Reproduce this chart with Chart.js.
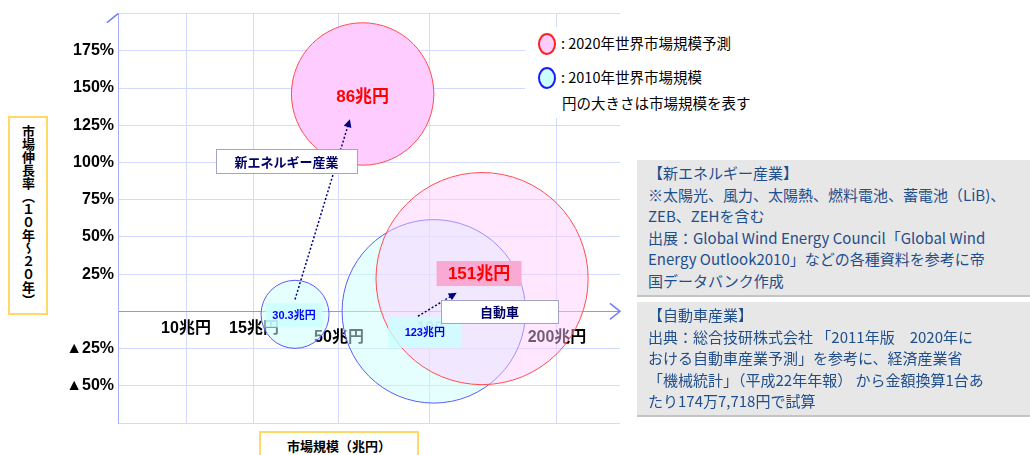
<!DOCTYPE html>
<html lang="ja">
<head>
<meta charset="utf-8">
<title>市場規模と市場伸長率</title>
<script src="https://cdn.jsdelivr.net/npm/chart.js@4.4.0/dist/chart.umd.min.js"></script>
<style>
  html, body { margin: 0; padding: 0; background: #fff; }
  #wrap { position: relative; width: 1030px; height: 455px; overflow: hidden; font-family: "Noto Sans CJK JP", sans-serif; }
  #chart { position: absolute; left: 0; top: 0; }
  .ytitle { position: absolute; left: 8px; top: 116px; width: 36px; height: 195px; border: 2px solid #ffd966;
    writing-mode: vertical-rl; text-align: center; line-height: 36px; font-size: 13px; font-weight: bold; color: #000; background: #fff; }
  .xtitle { position: absolute; left: 259px; top: 431px; width: 156px; height: 40px; border: 2px solid #ffd966;
    text-align: center; line-height: 26px; font-size: 13px; font-weight: bold; color: #000; background: #fff; }
  .legend { position: absolute; left: 525px; top: 27px; width: 240px; height: 91px; background: #fff; font-size: 14.5px; color: #000; }
  .legend .row { position: absolute; left: 13px; height: 22px; line-height: 22px; white-space: nowrap; }
  .legend .dot { display: inline-block; width: 14px; height: 18px; border-radius: 50%; vertical-align: middle; margin-right: 5px; position: relative; top: -1px; }
  .note { position: absolute; left: 637px; width: 382px; background: #e7e7e7; border-bottom: 2px solid #c4c4c4;
    padding: 2px 0 0 11px; font-size: 15px; line-height: 21.5px; color: #1f4e8c; white-space: nowrap; overflow: hidden; }
</style>
</head>
<body>
<div id="wrap">
  <canvas id="chart" width="1030" height="455"></canvas>
  <div class="legend">
    <div class="row" style="top:5px"><span class="dot" style="background:#ffccff;border:2px solid #ff2020"></span>: 2020年世界市場規模予測</div>
    <div class="row" style="top:39px"><span class="dot" style="background:#ccffff;border:2px solid #1a1aff"></span>: 2010年世界市場規模</div>
    <div class="row" style="top:65px;left:37px">円の大きさは市場規模を表す</div>
  </div>
  <div class="ytitle">市場伸長率（１０年～２０年）</div>
  <div class="xtitle">市場規模（兆円）</div>
  <div class="note" style="top:160px;height:133px">【新エネルギー産業】<br>※太陽光、風力、太陽熱、燃料電池、蓄電池（LiB)、<br>ZEB、ZEHを含む<br>出展：Global Wind Energy Council「Global Wind<br>Energy Outlook2010」などの各種資料を参考に帝<br>国データバンク作成</div>
  <div class="note" style="top:302px;height:111px">【自動車産業】<br>出典：総合技研株式会社 「2011年版　2020年に<br>おける自動車産業予測」を参考に、経済産業省<br>「機械統計」（平成22年年報） から金額換算1台あ<br>たり174万7,718円で試算</div>
</div>
<script>
// industries: new energy, automobile
var industries = ['新エネルギー産業', '自動車'];
var size2010 = [30.3, 123];   // 兆円
var size2020 = [86, 151];     // 兆円
var xPos2010 = [31.9, 103];
var xPos2020 = [63, 141];
var growth2010 = [-2, 0];     // %
var growth2020 = [146, 22];   // %

var xTickValues = [0, 10, 15, 50, 100, 200];
var xTickLabels = ['', '10兆円', '15兆円', '50兆円', '100', '200兆円'];

// the market-size axis in the original is not linear: value -> share of the axis width
var xStops = [[0, 0], [10, 0.1355], [15, 0.2709], [50, 0.4402], [100, 0.6215], [200, 0.8745], [250, 1]];

class SteppedScale extends Chart.LinearScale {
  getPixelForValue(value) {
    var s = xStops, f = 1;
    if (value <= s[0][0]) f = 0;
    for (var i = 1; i < s.length; i++) {
      if (value <= s[i][0]) {
        f = s[i-1][1] + (value - s[i-1][0]) / (s[i][0] - s[i-1][0]) * (s[i][1] - s[i-1][1]);
        break;
      }
    }
    return this.getPixelForDecimal(f);
  }
  getValueForPixel(pixel) {
    var f = this.getDecimalForPixel(pixel), s = xStops;
    for (var i = 1; i < s.length; i++) {
      if (f <= s[i][1]) return s[i-1][0] + (f - s[i-1][1]) / (s[i][1] - s[i-1][1]) * (s[i][0] - s[i-1][0]);
    }
    return s[s.length-1][0];
  }
  // labels are pulled up under the 0% line, so don't clip them to the axis box
  _computeLabelArea() { return undefined; }
}
SteppedScale.id = 'stepped';
SteppedScale.defaults = Chart.LinearScale.defaults;
Chart.register(SteppedScale);

function bubbleRadius(v) { return 3.04 * Math.pow(v, 0.708); }

function points(xs, ys, vs) {
  var out = [];
  for (var i = 0; i < xs.length; i++) out.push({x: xs[i], y: ys[i], v: vs[i]});
  return out;
}

var gridColor = '#d3d9ff';
var axisColor = '#8b97ff';
var numFont = '"Liberation Sans", "Noto Sans CJK JP", sans-serif';

var notes = {
  id: 'notes',
  afterDatasetsDraw: function(chart) {
    var ctx = chart.ctx, x = chart.scales.x, y = chart.scales.y, area = chart.chartArea;
    var m20 = chart.getDatasetMeta(0).data, m10 = chart.getDatasetMeta(1).data;

    ctx.save();
    // axis arrow heads
    ctx.strokeStyle = '#6f7dff';
    ctx.lineWidth = 1.5;
    var y0 = y.getPixelForValue(0);
    ctx.beginPath();
    ctx.moveTo(area.right - 10, y0 - 8); ctx.lineTo(area.right, y0); ctx.lineTo(area.right - 10, y0 + 8);
    ctx.stroke();
    ctx.beginPath();
    ctx.moveTo(area.left - 11, area.top + 9); ctx.lineTo(area.left, area.top);
    ctx.stroke();

    // value labels
    function label(el, text, dx, dy, w, h, bg, color, size) {
      var cx = el.x + dx, cy = el.y + dy;
      if (bg) { ctx.fillStyle = bg; ctx.fillRect(cx - w / 2, cy - h / 2, w, h); }
      ctx.fillStyle = color;
      ctx.font = 'bold ' + size + 'px ' + numFont;
      ctx.textAlign = 'center'; ctx.textBaseline = 'middle';
      ctx.fillText(text, cx, cy + 1);
    }
    label(m20[0], size2020[0] + '兆円', 0, 2, 0, 0, null, '#ff0000', 17);
    label(m20[1], size2020[1] + '兆円', -3, -5, 85, 25, '#f9aad2', '#ff0000', 17);
    label(m10[0], size2010[0] + '兆円', -1, 1, 57, 24, 'rgba(204,255,255,0.8)', '#0000ff', 11);
    label(m10[1], size2010[1] + '兆円', -9, 21, 73, 31, 'rgba(204,255,255,0.8)', '#0000ff', 11);

    // growth arrows 2010 -> 2020
    function arrow(x0, v0, x1, v1) {
      var px0 = x.getPixelForValue(x0), py0 = y.getPixelForValue(v0);
      var px1 = x.getPixelForValue(x1), py1 = y.getPixelForValue(v1);
      var a = Math.atan2(py1 - py0, px1 - px0);
      ctx.strokeStyle = '#000080';
      ctx.lineWidth = 1.5;
      ctx.setLineDash([2, 2]);
      ctx.beginPath();
      ctx.moveTo(px0, py0);
      ctx.lineTo(px1 - 6 * Math.cos(a), py1 - 6 * Math.sin(a));
      ctx.stroke();
      ctx.setLineDash([]);
      ctx.fillStyle = '#000080';
      ctx.beginPath();
      ctx.moveTo(px1, py1);
      ctx.lineTo(px1 - 8 * Math.cos(a) + 4 * Math.sin(a), py1 - 8 * Math.sin(a) - 4 * Math.cos(a));
      ctx.lineTo(px1 - 8 * Math.cos(a) - 4 * Math.sin(a), py1 - 8 * Math.sin(a) + 4 * Math.cos(a));
      ctx.closePath();
      ctx.fill();
    }
    arrow(31.9, 8, 56, 129);
    arrow(93.4, -3.3, 121, 12.5);

    // industry callouts
    function callout(xv, yv, w, h, text) {
      var cx = x.getPixelForValue(xv), cy = y.getPixelForValue(yv);
      ctx.fillStyle = '#fff';
      ctx.fillRect(cx - w / 2, cy - h / 2, w, h);
      ctx.strokeStyle = '#a3a3c8';
      ctx.lineWidth = 1;
      ctx.strokeRect(Math.round(cx - w / 2) + 0.5, Math.round(cy - h / 2) + 0.5, w, h);
      ctx.fillStyle = '#000066';
      ctx.font = 'bold 13px "Noto Sans CJK JP", sans-serif';
      ctx.textAlign = 'center'; ctx.textBaseline = 'middle';
      ctx.fillText(text, cx, cy + 1);
    }
    callout(28.4, 101, 141, 24, industries[0]);
    callout(154.7, 0, 117, 23, industries[1]);
    ctx.restore();
  }
};

new Chart(document.getElementById('chart'), {
  type: 'bubble',
  data: {
    datasets: [
      {
        label: '2020年世界市場規模予測',
        data: points(xPos2020, growth2020, size2020),
        backgroundColor: ['#ffccff', 'rgba(255,204,255,0.45)'],
        borderColor: '#ff4d4d',
        borderWidth: 1
      },
      {
        label: '2010年世界市場規模',
        data: points(xPos2010, growth2010, size2010),
        backgroundColor: 'rgba(204,255,255,0.5)',
        borderColor: '#5a5aff',
        borderWidth: 1
      }
    ]
  },
  options: {
    responsive: false,
    animation: false,
    events: [],
    layout: { autoPadding: false, padding: { left: 0, top: 12, right: 410, bottom: 0 } },
    elements: {
      point: {
        radius: function(c) { return c.raw ? bubbleRadius(c.raw.v) : 3; },
        hoverRadius: 0
      }
    },
    plugins: { legend: { display: false }, tooltip: { enabled: false } },
    scales: {
      x: {
        type: 'stepped',
        position: 'bottom',
        min: 0,
        max: 250,
        afterFit: function(s) { s.height = 32; },
        afterBuildTicks: function(s) { s.ticks = xTickValues.map(function(v) { return {value: v}; }); },
        grid: {
          color: function(c) { return c.tick && c.tick.value === 0 ? 'rgba(0,0,0,0)' : gridColor; },
          drawTicks: false
        },
        border: { display: false },
        ticks: {
          autoSkip: false,
          maxRotation: 0,
          // labels sit just under the 0% line, not under the plot
          padding: -103.6,
          color: '#000',
          font: function(c) {
            var low = c.index === 3 || c.index === 5;
            return { family: numFont, size: 16, weight: 'bold', lineHeight: low ? 2.3 : 1.2 };
          },
          callback: function(v, i) { return xTickLabels[i]; }
        }
      },
      y: {
        type: 'linear',
        position: 'left',
        min: -75,
        max: 200,
        afterFit: function(s) { s.width = 118; },
        grid: {
          color: function(c) { return c.tick && c.tick.value === 0 ? axisColor : gridColor; },
          drawTicks: false
        },
        border: { color: '#a3adff', width: 1 },
        ticks: {
          autoSkip: false,
          stepSize: 25,
          padding: 4,
          color: '#000',
          font: { family: numFont, size: 16, weight: 'bold' },
          callback: function(v) {
            if (v === 0 || v === 200 || v === -75) return '';
            return v < 0 ? '▲' + (-v) + '%' : v + '%';
          }
        }
      }
    }
  },
  plugins: [notes]
});
</script>
</body>
</html>
